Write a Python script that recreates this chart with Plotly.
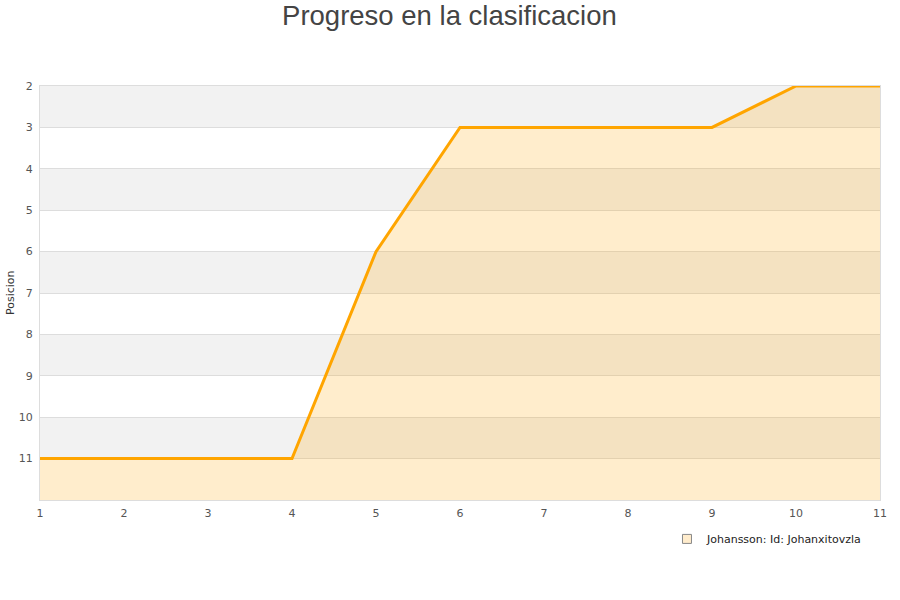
import plotly.graph_objects as go

jornadas = [1, 2, 3, 4, 5, 6, 7, 8, 9, 10, 11]
posicion = [11, 11, 11, 11, 6, 3, 3, 3, 3, 2, 2]
serie = "Johansson: Id: Johanxitovzla"
y_min, y_max = 2, 12
ytick_vals = [2, 3, 4, 5, 6, 7, 8, 9, 10, 11]

fig = go.Figure()

# baseline for filling down to the bottom of the reversed axis
fig.add_trace(go.Scatter(x=jornadas, y=[y_max] * len(jornadas), mode="lines",
                         line=dict(width=0, color="rgba(0,0,0,0)"),
                         showlegend=False, hoverinfo="skip"))
fig.add_trace(go.Scatter(x=jornadas, y=posicion, mode="lines", fill="tonexty",
                         fillcolor="rgba(255,165,0,0.2)",
                         line=dict(color="#ffa500", width=3),
                         showlegend=False, name=serie))
# legend entry (square)
fig.add_trace(go.Scatter(x=[None], y=[None], mode="markers", name=serie,
                         marker=dict(symbol="square", size=9, color="#ffeccc",
                                     line=dict(color="#888", width=1))))

shapes = []
for lo in range(y_min, y_max, 2):
    shapes.append(dict(type="rect", xref="paper", yref="y", x0=0, x1=1,
                       y0=lo, y1=lo + 1, fillcolor="#f2f2f2",
                       line=dict(width=0), layer="below"))

fig.update_layout(
    width=900, height=600,
    paper_bgcolor="white", plot_bgcolor="white",
    margin=dict(l=40, r=20, t=86, b=100, autoexpand=False),
    title=dict(text="Progreso en la clasificacion", x=0.4994, xanchor="center",
               y=0.975, yanchor="middle",
               font=dict(family="Liberation Sans, Arial", size=27.5, color="#444")),
    shapes=shapes,
    showlegend=True,
    legend=dict(x=0.7464, y=-0.094, xanchor="left", yanchor="middle",
                font=dict(family="DejaVu Sans", size=11, color="#222"),
                bgcolor="rgba(0,0,0,0)"),
    font=dict(family="DejaVu Sans", size=11, color="#555"),
    annotations=[dict(text="Posicion", textangle=-90, xref="paper", yref="paper",
                      x=-0.0357, y=0.5, xanchor="center", yanchor="middle",
                      showarrow=False, font=dict(size=11, color="#333"))],
)
fig.update_xaxes(range=[1, 11], tickvals=jornadas, showgrid=False, automargin=False,
                 showline=True, linecolor="#ddd", linewidth=1, mirror=True,
                 zeroline=False, ticks="", ticklabelstandoff=3,
                 tickfont=dict(size=11, color="#555"))
fig.update_yaxes(range=[y_max, y_min], tickvals=ytick_vals, showgrid=True, automargin=False,
                 gridcolor="#dddddd", gridwidth=1,
                 showline=True, linecolor="#ddd", linewidth=1, mirror=True,
                 zeroline=False, ticks="", ticklabelstandoff=4,
                 tickfont=dict(size=11, color="#555"))

fig.write_html("out.html",
               config={"displayModeBar": False},
               post_script="document.body.style.margin='0';")
